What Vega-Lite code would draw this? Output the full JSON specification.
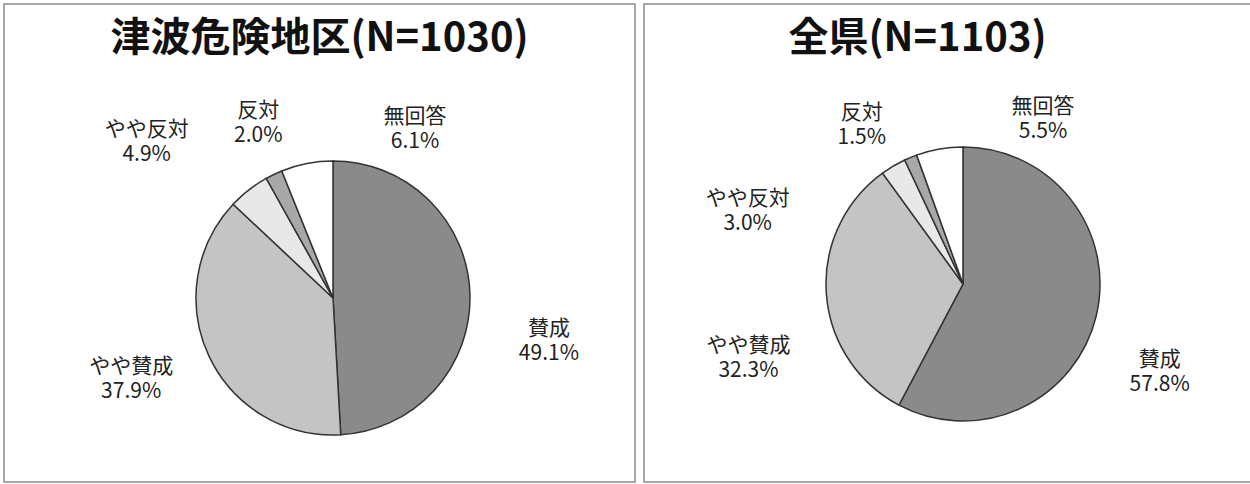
{
  "$schema": "https://vega.github.io/schema/vega-lite/v6.json",
  "background": "white",
  "padding": {"left": 3, "top": 3, "right": 0, "bottom": 0},
  "spacing": 7,
  "config": {
    "view": {"stroke": "#8c8c8c", "strokeWidth": 1.5},
    "font": "Noto Sans CJK JP"
  },
  "hconcat": [
    {
      "width": 631,
      "height": 478,
      "view": {"stroke": "#8c8c8c", "strokeWidth": 1.5, "fill": "white"},
      "title": {"text": "津波危険地区(N=1030)", "fontSize": 40, "font": "Noto Sans CJK JP", "fontWeight": "bold", "color": "#111", "anchor": "middle", "baseline": "middle", "offset": -75},
      "data": {"values": [
        {"category": "賛成", "value": 49.1},
        {"category": "やや賛成", "value": 37.9},
        {"category": "やや反対", "value": 4.9},
        {"category": "反対", "value": 2.0},
        {"category": "無回答", "value": 6.1}
      ]},
      "transform": [
        {"window": [{"op": "row_number", "as": "rn"}]},
        {"stack": "value", "groupby": [], "sort": [{"field": "rn", "order": "ascending"}], "as": ["v0", "v1"]},
        {"calculate": "(datum.v0 + datum.v1) / 2", "as": "mid"},
        {"calculate": "datum.category + '\\n' + format(datum.value, '.1f') + '%'", "as": "label"}
      ],
      "layer": [
        {
          "mark": {"type": "arc", "radius": 137, "stroke": "#333", "strokeWidth": 1.5, "x": 329, "y": 294},
          "encoding": {
            "theta": {"field": "v0", "type": "quantitative", "stack": null, "scale": {"domain": [0, 100], "range": [0, 6.283185307179586], "zero": true, "nice": false}},
            "theta2": {"field": "v1"},
            "color": {"field": "category", "type": "nominal", "legend": null,
              "scale": {"domain": ["賛成", "やや賛成", "やや反対", "反対", "無回答"], "range": ["#8a8a8a", "#c4c4c4", "#e8e8e8", "#a8a8a8", "#ffffff"]}}
          }
        },
        {
          "mark": {"type": "text", "radius": 215, "x": 329, "y": 294,
            "font": "Liberation Sans Narrow, Noto Sans CJK JP", "fontSize": 21, "lineBreak": "\n", "lineHeight": 25,
            "align": "center", "baseline": "middle", "fill": "#222",
            "dx": {"expr": "{'賛成': 1, 'やや賛成': -7, 'やや反対': -54, '反対': 18, '無回答': 123}[datum.category]"},
            "dy": {"expr": "{'賛成': 37, 'やや賛成': -22, 'やや反対': 1, '反対': 7, '無回答': 30}[datum.category]"}},
          "encoding": {
            "theta": {"field": "mid", "type": "quantitative", "stack": null},
            "text": {"field": "label", "type": "nominal"}
          }
        }
      ]
    },
    {
      "width": 607,
      "height": 478,
      "view": {"stroke": "#8c8c8c", "strokeWidth": 1.5, "fill": "white"},
      "title": {"text": "全県(N=1103)", "fontSize": 40, "font": "Noto Sans CJK JP", "fontWeight": "bold", "color": "#111", "anchor": "middle", "baseline": "middle", "offset": -75, "dx": -30},
      "data": {"values": [
        {"category": "賛成", "value": 57.8},
        {"category": "やや賛成", "value": 32.3},
        {"category": "やや反対", "value": 3.0},
        {"category": "反対", "value": 1.5},
        {"category": "無回答", "value": 5.5}
      ]},
      "transform": [
        {"window": [{"op": "row_number", "as": "rn"}]},
        {"stack": "value", "groupby": [], "sort": [{"field": "rn", "order": "ascending"}], "as": ["v0", "v1"]},
        {"calculate": "(datum.v0 + datum.v1) / 2", "as": "mid"},
        {"calculate": "datum.category + '\\n' + format(datum.value, '.1f') + '%'", "as": "label"}
      ],
      "layer": [
        {
          "mark": {"type": "arc", "radius": 137, "stroke": "#333", "strokeWidth": 1.5, "x": 319, "y": 280},
          "encoding": {
            "theta": {"field": "v0", "type": "quantitative", "stack": null, "scale": {"domain": [0, 100.1], "range": [0, 6.283185307179586], "zero": true, "nice": false}},
            "theta2": {"field": "v1"},
            "color": {"field": "category", "type": "nominal", "legend": null,
              "scale": {"domain": ["賛成", "やや賛成", "やや反対", "反対", "無回答"], "range": ["#8a8a8a", "#c4c4c4", "#e8e8e8", "#a8a8a8", "#ffffff"]}}
          }
        },
        {
          "mark": {"type": "text", "radius": 215, "x": 319, "y": 280,
            "font": "Liberation Sans Narrow, Noto Sans CJK JP", "fontSize": 21, "lineBreak": "\n", "lineHeight": 25,
            "align": "center", "baseline": "middle", "fill": "#222",
            "dx": {"expr": "{'賛成': -12, 'やや賛成': 0, 'やや反対': -106, '反対': -19, '無回答': 117}[datum.category]"},
            "dy": {"expr": "{'賛成': 24, 'やや賛成': 47, 'やや反対': 100, '反対': 28, '無回答': 35}[datum.category]"}},
          "encoding": {
            "theta": {"field": "mid", "type": "quantitative", "stack": null},
            "text": {"field": "label", "type": "nominal"}
          }
        }
      ]
    }
  ]
}
